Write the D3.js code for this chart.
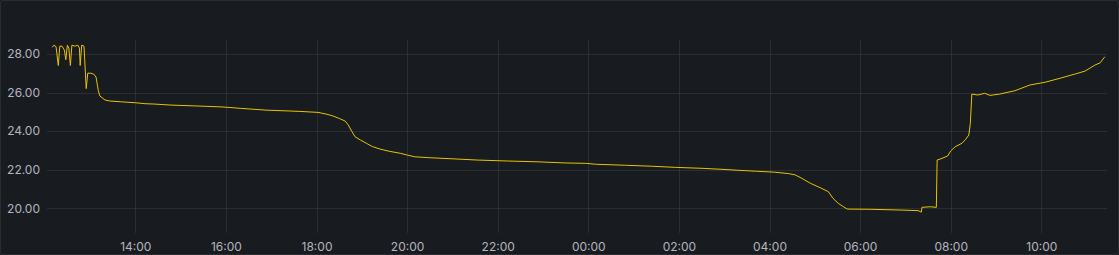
<!DOCTYPE html>
<html>
<head>
<meta charset="utf-8">
<script src="https://cdn.jsdelivr.net/npm/d3@7"></script>
<style>
  html, body { margin: 0; padding: 0; background: #181b1f; }
  svg { display: block; }
  .tick text { font-family: Inter, "Noto Sans", sans-serif; font-size: 12px; fill: #b4b6bf; }
</style>
</head>
<body>
<div id="chart"></div>
<script>
// minutes after 12:00 on the first day, and the temperature read at that moment
const minutesFromNoon = [
  10, 12, 15, 18, 20, 23, 26, 28, 30, 32, 34, 36, 40, 44, 46, 47, 49, 52, 53, 55,
  57, 61, 65, 68, 71, 73, 80, 86, 100, 120, 133, 146, 166, 202, 236, 259, 292, 325, 338, 362,
  374, 382, 391, 398, 402, 407, 411, 418, 426, 434, 444, 457, 471, 481, 490, 510, 537, 573, 613, 652,
  689, 716, 731, 769, 804, 836, 872, 897, 918, 943, 967, 985, 994, 1003, 1014, 1027, 1038, 1044, 1051, 1058,
  1063, 1093, 1133, 1157, 1161, 1162, 1173, 1181, 1182, 1186, 1196, 1200, 1206, 1215, 1220, 1224, 1226, 1228, 1236, 1245,
  1252, 1265, 1285, 1305, 1325, 1345, 1365, 1378, 1391, 1398, 1404
];
const temperatures = [
  28.34, 28.45, 28.38, 27.40, 28.40, 28.40, 28.20, 27.70, 28.45, 28.30, 27.40, 28.45, 28.40, 28.45, 28.30, 27.40, 28.45, 28.40, 27.70, 26.20,
  27.00, 27.00, 26.95, 26.80, 26.10, 25.82, 25.61, 25.56, 25.52, 25.47, 25.42, 25.40, 25.35, 25.30, 25.25, 25.18, 25.09, 25.04, 25.02, 24.97,
  24.87, 24.78, 24.64, 24.52, 24.32, 23.97, 23.71, 23.54, 23.37, 23.20, 23.07, 22.95, 22.85, 22.75, 22.67, 22.62, 22.57, 22.50, 22.45, 22.41,
  22.35, 22.33, 22.28, 22.23, 22.18, 22.12, 22.07, 22.02, 21.97, 21.92, 21.87, 21.80, 21.73, 21.55, 21.30, 21.07, 20.86, 20.52, 20.26, 20.08,
  19.96, 19.95, 19.91, 19.88, 19.80, 20.05, 20.08, 20.05, 22.50, 22.55, 22.71, 22.97, 23.19, 23.37, 23.58, 23.80, 24.40, 25.92, 25.87, 25.96,
  25.85, 25.92, 26.09, 26.39, 26.53, 26.74, 26.96, 27.11, 27.42, 27.54, 27.85
];
const yTicks = [20, 22, 24, 26, 28];
const xTickLabels = ["14:00", "16:00", "18:00", "20:00", "22:00", "00:00", "02:00", "04:00", "06:00", "08:00", "10:00"];

const W = 1119, H = 255;
const plot = { left: 47, right: 1107, top: 40, bottom: 233 };

const base = new Date(2024, 0, 1, 12, 0);
const at = m => new Date(base.getTime() + m * 60000);
const data = minutesFromNoon.map((m, i) => ({ t: at(m), v: temperatures[i] }));

// x tick dates: every label after 14:00 is two hours later
const xTickDates = xTickLabels.map((_, i) => at(120 + i * 120));

const svg = d3.select("#chart").append("svg")
  .attr("width", W)
  .attr("height", H);

svg.append("rect")
  .attr("x", 0.5).attr("y", 0.5)
  .attr("width", W - 1).attr("height", H - 1)
  .attr("rx", 2)
  .attr("fill", "#181b1f")
  .attr("stroke", "rgba(204,204,220,0.10)");

const x = d3.scaleTime()
  .domain([xTickDates[0], xTickDates[xTickDates.length - 1]])
  .range([135.3, 1041.3]);

const y = d3.scaleLinear()
  .domain([20, 28])
  .range([208.3, 53.9]);

// grid
svg.append("g")
  .selectAll("line")
  .data(xTickDates)
  .join("line")
  .attr("x1", d => Math.round(x(d)) + 0.5)
  .attr("x2", d => Math.round(x(d)) + 0.5)
  .attr("y1", plot.top)
  .attr("y2", plot.bottom)
  .attr("stroke", "rgba(204,204,220,0.10)");

svg.append("g")
  .selectAll("line")
  .data(yTicks)
  .join("line")
  .attr("x1", plot.left)
  .attr("x2", plot.right)
  .attr("y1", d => Math.round(y(d)) + 0.5)
  .attr("y2", d => Math.round(y(d)) + 0.5)
  .attr("stroke", "rgba(204,204,220,0.10)");

// axes (labels only)
const xAxis = svg.append("g")
  .attr("transform", `translate(0,${plot.bottom})`)
  .call(d3.axisBottom(x).tickValues(xTickDates).tickFormat((d, i) => xTickLabels[i]).tickSize(0).tickPadding(9));
xAxis.select(".domain").remove();

const yAxis = svg.append("g")
  .attr("transform", `translate(${40},0)`)
  .call(d3.axisLeft(y).tickValues(yTicks).tickFormat(d3.format(".2f")).tickSize(0).tickPadding(0));
yAxis.select(".domain").remove();

// series
const line = d3.line()
  .x(d => x(d.t))
  .y(d => y(d.v));

svg.append("path")
  .datum(data)
  .attr("fill", "none")
  .attr("stroke", "#e8c400")
  .attr("stroke-width", 1)
  .attr("d", line);
</script>
</body>
</html>
